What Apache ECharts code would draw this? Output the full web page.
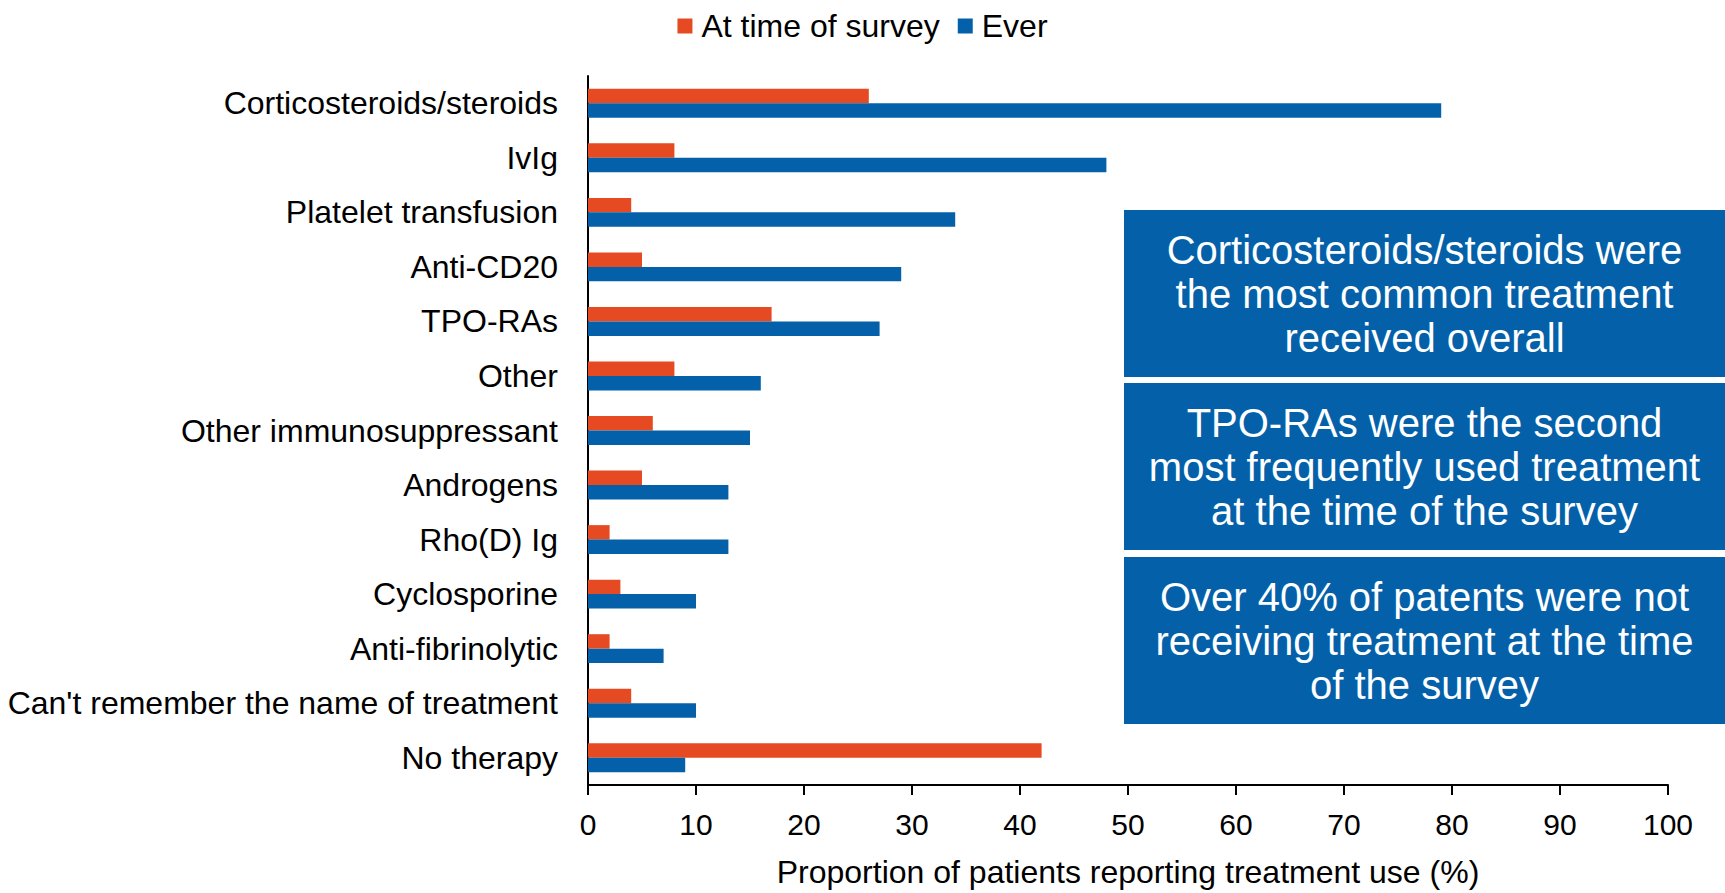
<!DOCTYPE html>
<html>
<head>
<meta charset="utf-8">
<title>Treatment use</title>
<script src="https://cdn.jsdelivr.net/npm/echarts@6/dist/echarts.min.js"></script>
<style>
  html, body { margin: 0; padding: 0; background: #ffffff; }
  #chart { width: 1725px; height: 893px; }
</style>
</head>
<body>
<div id="chart"></div>
<script>
// Treatments, top to bottom
const categories = [
  'Corticosteroids/steroids',
  'IvIg',
  'Platelet transfusion',
  'Anti-CD20',
  'TPO-RAs',
  'Other',
  'Other immunosuppressant',
  'Androgens',
  'Rho(D) Ig',
  'Cyclosporine',
  'Anti-fibrinolytic',
  "Can't remember the name of treatment",
  'No therapy'
];

// Proportion of patients (%)
const atTimeOfSurvey = [26, 8, 4, 5, 17, 8, 6, 5, 2, 3, 2, 4, 42];
const ever = [79, 48, 34, 29, 27, 16, 15, 13, 13, 10, 7, 10, 9];

const seriesNames = ['At time of survey', 'Ever'];
const xTicks = { min: 0, max: 100, interval: 10 };
const axisTitle = 'Proportion of patients reporting treatment use (%)';

// Key findings shown in the callout panels
const findings = [
  'Corticosteroids/steroids were\nthe most common treatment\nreceived overall',
  'TPO-RAs were the second\nmost frequently used treatment\nat the time of the survey',
  'Over 40% of patents were not\nreceiving treatment at the time\nof the survey'
];

const ORANGE = '#E64A22';
const BLUE = '#0461A9';
const FONT = '"Liberation Sans", Arial, Helvetica, sans-serif';

const chart = echarts.init(document.getElementById('chart'), null, { renderer: 'svg' });

const panelX = 1124, panelW = 601, panelH = 167;
const panelTops = [210, 383, 557];
const panels = [];
findings.forEach(function (txt, i) {
  panels.push({
    type: 'rect',
    shape: { x: panelX, y: panelTops[i], width: panelW, height: panelH },
    style: { fill: BLUE },
    silent: true,
    z: 10
  });
  panels.push({
    type: 'text',
    x: panelX + panelW / 2,
    y: panelTops[i] + panelH / 2,
    style: {
      text: txt,
      fill: '#ffffff',
      fontFamily: FONT,
      fontSize: 40,
      lineHeight: 44,
      align: 'center',
      verticalAlign: 'middle'
    },
    silent: true,
    z: 11
  });
});

chart.setOption({
  animation: false,
  backgroundColor: '#ffffff',
  textStyle: { fontFamily: FONT, color: '#000000' },
  legend: {
    top: 5,
    left: 'center',
    icon: 'rect',
    itemWidth: 15,
    itemHeight: 15,
    itemGap: 18,
    textStyle: { fontFamily: FONT, fontSize: 32, color: '#000000', padding: [0, 0, 0, 4] },
    data: seriesNames
  },
  grid: { left: 588, right: 57, top: 76, bottom: 101 },
  xAxis: {
    type: 'value',
    min: xTicks.min,
    max: xTicks.max,
    interval: xTicks.interval,
    name: axisTitle,
    nameLocation: 'middle',
    nameGap: 71,
    nameTextStyle: { fontFamily: FONT, fontSize: 32, color: '#000000' },
    axisLine: { show: true, lineStyle: { color: '#000000', width: 2 } },
    axisTick: { show: true, length: 10, lineStyle: { color: '#000000', width: 2 } },
    axisLabel: { fontFamily: FONT, fontSize: 30, color: '#000000', margin: 24 },
    splitLine: { show: false }
  },
  yAxis: {
    type: 'category',
    data: categories,
    inverse: true,
    axisLine: { show: true, lineStyle: { color: '#000000', width: 2 } },
    axisTick: { show: false },
    axisLabel: { fontFamily: FONT, fontSize: 32, color: '#000000', margin: 30 },
    splitLine: { show: false }
  },
  series: [
    {
      name: seriesNames[0],
      type: 'bar',
      data: atTimeOfSurvey,
      itemStyle: { color: ORANGE },
      barGap: '0%',
      barCategoryGap: '47%'
    },
    {
      name: seriesNames[1],
      type: 'bar',
      data: ever,
      itemStyle: { color: BLUE },
      barGap: '0%',
      barCategoryGap: '47%'
    }
  ],
  graphic: panels
});
</script>
</body>
</html>
